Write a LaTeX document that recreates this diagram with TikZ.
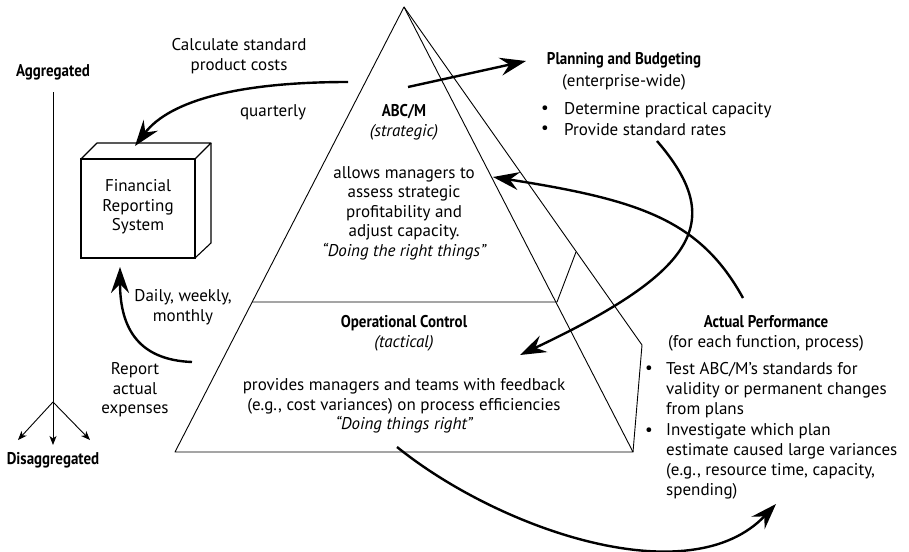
\documentclass[tikz,border=0pt]{standalone}
\usepackage{fontspec}
\setmainfont{PT Sans}
\newfontfamily\condbf[FakeStretch=0.88]{PT Sans Bold}
\usetikzlibrary{arrows.meta}
\tikzset{
  txt/.style={font=\fontsize{17}{19.5}\selectfont, align=center, inner sep=0pt},
  bhead/.style={font=\fontsize{17}{19.5}\selectfont\condbf, inner sep=0pt},
  ltxt/.style={font=\fontsize{17}{20}\selectfont, align=left, inner sep=0pt, anchor=west},
  bigarrow/.style={line width=2.4pt, -{Stealth[length=26pt,width=18pt,inset=9pt]}},
  thinarrow/.style={line width=0.9pt, -{Stealth[length=9pt,width=7pt,inset=2.5pt]}},
  edge/.style={line width=0.9pt},
}
\begin{document}
\begin{tikzpicture}[x=1pt,y=-1pt]
\useasboundingbox (0,0) rectangle (909,551);
% axis
\node[bhead] (agg) at (53,72) {Aggregated};
\node[bhead] (disagg) at (53,460) {Disaggregated};
\coordinate (atop) at (53,92);
\coordinate (fork) at (53,402);
\coordinate (tl) at (18,440);
\coordinate (tm) at (53,445);
\coordinate (tr) at (90,440);
\draw[edge] (atop) -- (fork);
\draw[thinarrow] (fork) -- (tl);
\draw[thinarrow] (fork) -- (tm);
\draw[thinarrow] (fork) -- (tr);
% box
\draw[line width=1.1pt] (81,159) rectangle (195,258);
\draw[line width=1.1pt,line join=round] (81,159) -- (97,143) -- (211,143) -- (195,159);
\draw[line width=1.1pt,line join=round] (211,143) -- (211,243) -- (195,258);
\node[txt] (fin) at (138,207) {Financial\\Reporting\\System};
\coordinate (boxtop) at (135,146);
\coordinate (boxbot) at (120,267);
% pyramid
\coordinate (apex) at (404,7);
\coordinate (bl) at (175,452);
\coordinate (br) at (633,452);
\coordinate (back) at (642,345);
\coordinate (ml) at (252,302);
\coordinate (mr) at (557,302);
\coordinate (ms) at (576,252);
\draw[edge,line join=round] (apex) -- (bl) -- (br) -- cycle;
\draw[edge,line join=round] (apex) -- (back) -- (br);
\draw[edge,line join=round] (ml) -- (mr) -- (ms);
% pyramid texts
\node[bhead] (abc) at (404,112) {ABC/M};
\node[txt] (strat) at (404,132) {\itshape (strategic)};
\node[txt] (allows) at (404,213) {allows managers to\\assess strategic\\profitability and\\adjust capacity.\\\itshape “Doing the right things”};
\node[bhead] (oper) at (404,323) {Operational Control};
\node[txt] (tact) at (404,343) {\itshape (tactical)};
\node[txt] (prov) at (404,406) {provides managers and teams with feedback\\(e.g., cost variances) on process efficiencies\\\itshape “Doing things right”};
% left labels
\node[txt] (calc) at (239,56) {Calculate standard\\product costs};
\node[txt] (quart) at (273,112) {quarterly};
\node[txt] (daily) at (183,307) {Daily, weekly,\\monthly};
\node[txt] (report) at (135,390) {Report\\actual\\expenses};
% planning
\node[bhead] (plan) at (624,60) {Planning and Budgeting};
\node[txt] (ent) at (624,82) {(enterprise-wide)};
\node[txt] (pb1) at (545,110) {•};
\node[ltxt] (pt1) at (564,110) {Determine practical capacity};
\node[txt] (pb2) at (545,130) {•};
\node[ltxt] (pt2) at (564,130) {Provide standard rates};
% actual performance
\node[bhead] (act) at (766,322) {Actual Performance};
\node[txt] (each) at (766,343) {(for each function, process)};
\node[txt] (ab1) at (649,370) {•};
\node[ltxt] (at1) at (666,390) {Test ABC/M's standards for\\validity or permanent changes\\from plans};
\node[txt] (ab2) at (649,432) {•};
\node[ltxt] (at2) at (666,461.5) {Investigate which plan\\estimate caused large variances\\(e.g., resource time, capacity,\\spending)};
% arrows
\coordinate (c1s) at (348,82);
\draw[bigarrow] (c1s) .. controls (240,82) and (170,100) .. (boxtop);
\coordinate (r1s) at (192,362);
\draw[bigarrow] (r1s) .. controls (140,360) and (120,330) .. (boxbot);
\coordinate (p1s) at (408,87);
\coordinate (p1e) at (526,61);
\draw[bigarrow] (p1s) -- (p1e);
\coordinate (s1s) at (657,141);
\coordinate (s1e) at (520,355);
\draw[bigarrow] (s1s) .. controls (725,220) and (700,270) .. (s1e);
\coordinate (a1s) at (743,298);
\coordinate (a1e) at (493,177);
\draw[bigarrow] (a1s) .. controls (700,220) and (640,200) .. (a1e);
\coordinate (b1s) at (397,447);
\coordinate (b1e) at (776,504);
\draw[bigarrow] (b1s) .. controls (500,530) and (690,595) .. (b1e);
\end{tikzpicture}
\end{document}
